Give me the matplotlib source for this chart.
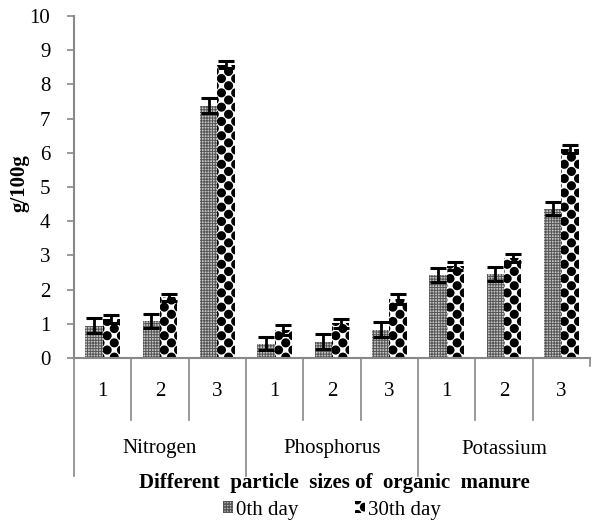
import matplotlib
matplotlib.use("Agg")
import matplotlib.pyplot as plt
import matplotlib.hatch as mhatch
from matplotlib.path import Path
import numpy as np

groups = ["Nitrogen", "Phosphorus", "Potassium"]
sizes = ["1", "2", "3"]
day0 = [0.95, 1.08, 7.38, 0.42, 0.48, 0.83, 2.43, 2.45, 4.37]
day0_err = [0.21, 0.2, 0.22, 0.2, 0.22, 0.22, 0.2, 0.2, 0.2]
day30 = [1.15, 1.78, 8.58, 0.82, 1.02, 1.72, 2.7, 2.92, 6.12]
day30_err = [0.12, 0.1, 0.1, 0.15, 0.13, 0.15, 0.12, 0.12, 0.12]
yticks = list(range(0, 11))


# custom hatch: checkerboard of filled black dots (used for the "30th day" pattern, char '*')
class CheckerDots(mhatch.HatchPatternBase):
    def __init__(self, hatch, density):
        self.on = '*' in hatch
        self.n = 14
        self.rad = 0.52
        circ = Path.unit_circle()
        self.cv = circ.vertices
        self.cc = circ.codes
        self.pts = [(c, r) for r in range(self.n + 1) for c in range(self.n + 1) if (r + c) % 2 == 0]
        self.num_vertices = len(self.pts) * len(self.cv) if self.on else 0

    def set_vertices_and_codes(self, vertices, codes):
        s = 1.0 / self.n
        k = len(self.cv)
        for i, (c, r) in enumerate(self.pts):
            vertices[i * k:(i + 1) * k] = self.cv * self.rad * s + (c * s, r * s)
            codes[i * k:(i + 1) * k] = self.cc


mhatch._hatch_types[:] = [t for t in mhatch._hatch_types if t is not mhatch.Stars] + [CheckerDots]

plt.rcParams['font.family'] = ['Liberation Serif', 'DejaVu Serif']
FS = 15

fig = plt.figure(figsize=(5.94, 5.22), dpi=100)
ax = fig.add_axes([74/594, 1-358/522, (590-74)/594, (358-16)/522])

n = len(day0)
x = np.arange(n) + 0.5
w = 0.3
plt.rcParams['hatch.linewidth'] = 0.7
b0 = ax.bar(x - w/2, day0, w, facecolor='#c4c4c4', edgecolor='#555555', hatch='++++++', linewidth=0)
plt.rcParams['hatch.linewidth'] = 1.2
b1 = ax.bar(x + w/2, day30, w, facecolor='white', edgecolor='black', hatch='*', linewidth=0)
plt.rcParams['hatch.linewidth'] = 1.0
ax.errorbar(x - w/2, day0, yerr=day0_err, fmt='none', ecolor='black', elinewidth=2, capsize=6, capthick=2.2)
ax.errorbar(x + w/2, day30, yerr=day30_err, fmt='none', ecolor='black', elinewidth=2, capsize=6, capthick=2.2)

ax.set_xlim(0, 9)
ax.set_ylim(0, 10)
ax.set_yticks(yticks)
ax.set_yticklabels([str(t) for t in yticks], fontsize=FS)
ax.tick_params(axis='y', colors='#888888', labelcolor='black', length=5, width=1.2, pad=12)
ax.set_xticks([])
for s in ['top', 'right']:
    ax.spines[s].set_visible(False)
for s in ['left', 'bottom']:
    ax.spines[s].set_color('#888888')
    ax.spines[s].set_linewidth(1.5)

ax_h = (358-16)
def py(pix):
    return -(pix-358)/ax_h
for i in range(1, 10):
    if i % 3 == 0:
        continue
    ax.plot([i, i], [0, py(420)], transform=ax.get_xaxis_transform(), color='#888888', lw=1.2, clip_on=False)
for i in [0, 3, 6]:
    ax.plot([i, i], [0, py(476)], transform=ax.get_xaxis_transform(), color='#888888', lw=1.2, clip_on=False)
ax.plot([9, 9], [0, py(366)], transform=ax.get_xaxis_transform(), color='#888888', lw=1.2, clip_on=False)
for i in range(n):
    ax.text(x[i], py(392), sizes[i % 3], transform=ax.get_xaxis_transform(), ha='center', va='center', fontsize=FS)
for g, name in enumerate(groups):
    ax.text(g*3 + 1.5, py(449), name, transform=ax.get_xaxis_transform(), ha='center', va='center', fontsize=FS)

fig.text(334/594, 1-483/522, "Different  particle  sizes of  organic  manure", ha='center', va='center',
         fontsize=FS, fontweight='bold')
fig.text(19/594, 1-183/522, "g/100g", rotation=90, ha='center', va='center', fontsize=FS, fontweight='bold')

leg = fig.legend([b0, b1], ["0th day", "30th day"], loc='center', bbox_to_anchor=(332/594, 1-510/522),
                 ncol=2, frameon=False, fontsize=FS, handlelength=0.5, handleheight=0.5,
                 handletextpad=0.15, columnspacing=2.7, borderpad=0)

fig.savefig("out.png", dpi=100)
